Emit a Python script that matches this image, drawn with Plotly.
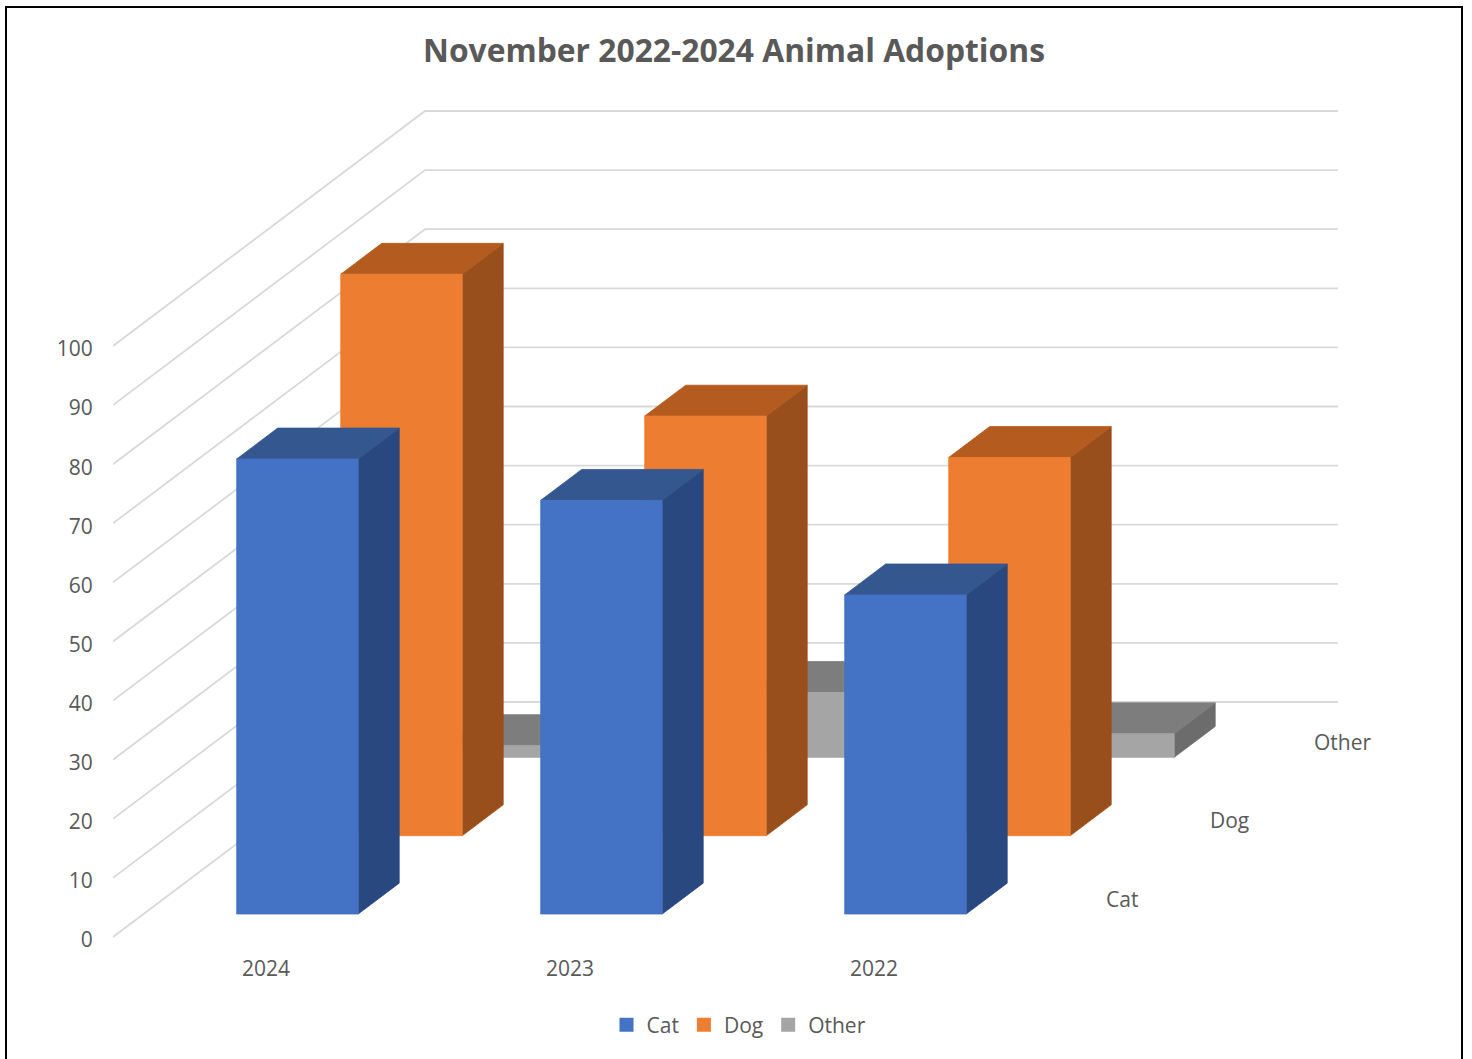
import plotly.graph_objects as go

# ---- data ----
years = ["2024", "2023", "2022"]
series_names = ["Cat", "Dog", "Other"]
cat = [77, 70, 54]
dog = [95, 71, 64]
other = [2, 11, 4]
value_ticks = [0, 10, 20, 30, 40, 50, 60, 70, 80, 90, 100]
title_text = "November 2022-2024 Animal Adoptions"

# ---- styles ----
FONT = "Open Sans"
TEXT = "#595959"
GRID = "#D9D9D9"
COLORS = {
    "Cat": ("#4472C4", "#34578F", "#2A4880"),
    "Dog": ("#ED7D31", "#B45C20", "#984F1C"),
    "Other": ("#A5A5A5", "#7D7D7D", "#6C6C6C"),
}

# ---- oblique projection of the 3-D scene onto the 2-D axes ----
W, H = 1472, 1059
PX_PER_UNIT = 5.91
Y_ZERO = 937
LEFT = 113
WALL_DEPTH = 312
WALL_RISE = 235
WALL_END = 1338
RISE = WALL_RISE / WALL_DEPTH / PX_PER_UNIT


def proj(x, d, v):
    """x along the categories, d into the depth, v value -> axis coordinates."""
    return x + d, v + d * RISE


BAR_W = 121.5
BAR_D = 41
FIRST_X = 206.2
STEP_X = 304
FIRST_D = 30.5
STEP_D = 104

fig = go.Figure()

# gridlines: side wall + back wall
for t in value_ticks:
    p0 = proj(LEFT, 0, t)
    p1 = proj(LEFT, WALL_DEPTH, t)
    fig.add_trace(go.Scatter(
        x=[p0[0], p1[0], WALL_END], y=[p0[1], p1[1], p1[1]], mode="lines",
        line=dict(color=GRID, width=1.8), showlegend=False, hoverinfo="skip"))


def face(points, color):
    xs = [p[0] for p in points] + [points[0][0]]
    ys = [p[1] for p in points] + [points[0][1]]
    fig.add_trace(go.Scatter(
        x=xs, y=ys, mode="lines", fill="toself", fillcolor=color,
        line=dict(width=0.8, color=color), showlegend=False, hoverinfo="skip"))


values = {"Cat": cat, "Dog": dog, "Other": other}
# draw back series first so nearer bars cover them
for s_i in [2, 1, 0]:
    name = series_names[s_i]
    front, top, side = COLORS[name]
    d0 = FIRST_D + s_i * STEP_D
    d1 = d0 + BAR_D
    for c_i, val in enumerate(values[name]):
        x0 = FIRST_X + c_i * STEP_X
        x1 = x0 + BAR_W
        face([proj(x1, d0, 0), proj(x1, d1, 0), proj(x1, d1, val), proj(x1, d0, val)], side)
        face([proj(x0, d0, val), proj(x1, d0, val), proj(x1, d1, val), proj(x0, d1, val)], top)
        face([proj(x0, d0, 0), proj(x1, d0, 0), proj(x1, d0, val), proj(x0, d0, val)], front)

# category labels below the front edge
cat_pts = [proj(FIRST_X + i * STEP_X + BAR_W / 2 - 1, 0, -5.75) for i in range(len(years))]
fig.add_trace(go.Scatter(
    x=[p[0] for p in cat_pts], y=[p[1] for p in cat_pts], text=years, mode="text",
    textposition="middle center", textfont=dict(family=FONT, size=21, color=TEXT),
    showlegend=False, hoverinfo="skip"))

# series labels along the depth axis
ser_pts = [proj(1055, FIRST_D + BAR_D / 2 + i * STEP_D, -0.45) for i in range(len(series_names))]
fig.add_trace(go.Scatter(
    x=[p[0] for p in ser_pts], y=[p[1] for p in ser_pts], text=series_names, mode="text",
    textposition="middle right", textfont=dict(family=FONT, size=21, color=TEXT),
    showlegend=False, hoverinfo="skip"))

# legend entries
for name in series_names:
    fig.add_trace(go.Scatter(
        x=[None], y=[None], mode="markers", name=name,
        marker=dict(symbol="square", size=14, color=COLORS[name][0])))


def px(x):
    return (x - LEFT) / (W - LEFT)


fig.update_layout(
    width=W, height=H, autosize=False,
    margin=dict(l=LEFT, r=0, t=0, b=0, pad=0),
    paper_bgcolor="white", plot_bgcolor="white",
    font=dict(family=FONT, color=TEXT, size=21),
    title=dict(text=f"<b>{title_text}</b>", x=px(734), xref="paper", xanchor="center",
               y=1 - 51 / H, yref="container", yanchor="middle",
               font=dict(family=FONT, size=31.8, color=TEXT)),
    xaxis=dict(range=[LEFT, W], visible=False, fixedrange=True),
    yaxis=dict(range=[(Y_ZERO - H) / PX_PER_UNIT, Y_ZERO / PX_PER_UNIT],
               tickvals=value_ticks, ticktext=[str(v) for v in value_ticks],
               ticks="outside", ticklen=15, tickcolor="rgba(0,0,0,0)",
               ticklabelshift=3,
               tickfont=dict(family=FONT, size=21, color=TEXT),
               showgrid=False, zeroline=False, showline=False, fixedrange=True),
    legend=dict(orientation="h", x=px(739), xanchor="center", y=(H - 1025) / H, yanchor="middle",
                font=dict(family=FONT, size=21, color=TEXT), bgcolor="rgba(0,0,0,0)",
                itemclick=False, itemdoubleclick=False),
    shapes=[dict(type="rect", xref="paper", yref="paper",
                 x0=px(6), x1=px(1462), y0=-0.01, y1=(H - 7) / H,
                 line=dict(color="black", width=2), fillcolor="rgba(0,0,0,0)")],
)

fig.write_html("out.html", post_script="document.body.style.margin='0';document.documentElement.style.overflow='hidden';",
               config={"displayModeBar": False})
